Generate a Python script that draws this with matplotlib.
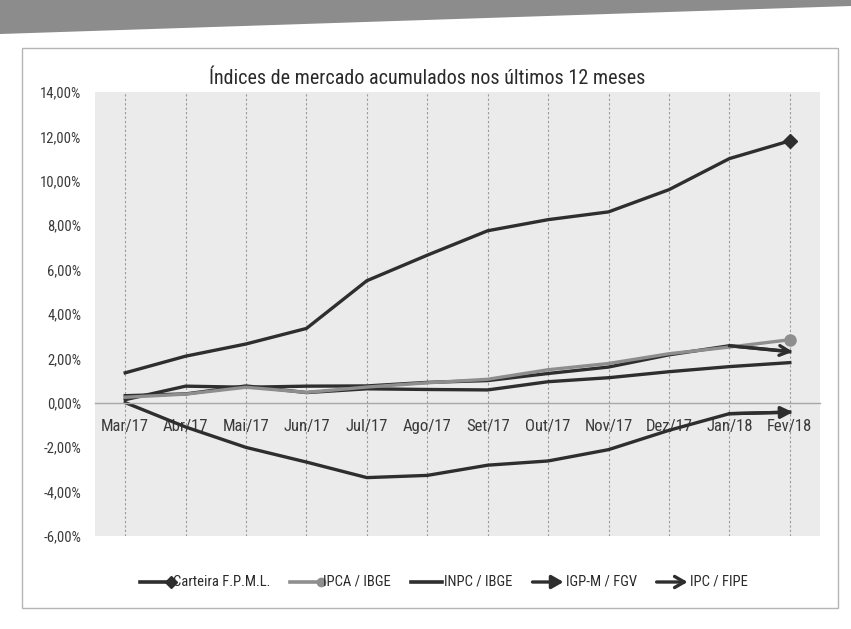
import matplotlib
matplotlib.use("Agg")
import matplotlib.pyplot as plt
from matplotlib import font_manager
from matplotlib.ticker import FuncFormatter, MultipleLocator
from matplotlib.lines import Line2D
from matplotlib.patches import Polygon, Rectangle, FancyArrowPatch

# ---- dados (acumulado desde Mar/17, em %) ----
meses = ["Mar/17", "Abr/17", "Mai/17", "Jun/17", "Jul/17", "Ago/17",
         "Set/17", "Out/17", "Nov/17", "Dez/17", "Jan/18", "Fev/18"]
carteira = [1.35, 2.10, 2.65, 3.35, 5.50, 6.65, 7.75, 8.25, 8.60, 9.60, 11.00, 11.80]
ipca = [0.25, 0.39, 0.70, 0.47, 0.71, 0.90, 1.06, 1.49, 1.77, 2.21, 2.51, 2.84]
inpc = [0.32, 0.40, 0.76, 0.46, 0.63, 0.60, 0.58, 0.95, 1.13, 1.40, 1.63, 1.81]
igpm = [0.01, -1.09, -2.01, -2.67, -3.37, -3.27, -2.81, -2.62, -2.11, -1.24, -0.49, -0.42]
ipc_fipe = [0.14, 0.75, 0.70, 0.75, 0.76, 0.92, 1.00, 1.32, 1.61, 2.16, 2.57, 2.30]

titulo = "Índices de mercado acumulados nos últimos 12 meses"
legenda = ["Carteira F.P.M.L.", "IPCA / IBGE", "INPC / IBGE", "IGP-M / FGV", "IPC / FIPE"]

# fonte estreita (parecida com Calibri), se houver
instaladas = {f.name for f in font_manager.fontManager.ttflist}
fonte = "DejaVu Sans"
for cand in ("Liberation Sans Narrow", "Roboto Condensed", "Open Sans Condensed",
             "Noto Sans Condensed", "Lato", "Roboto"):
    if cand in instaladas:
        fonte = cand
        break
plt.rcParams["font.family"] = [fonte, "DejaVu Sans"]

ESCURO = "#2e2e2e"
CINZA = "#8e8e8e"
W, H = 851, 629

fig = plt.figure(figsize=(W / 100, H / 100), dpi=100)
fig.patch.set_facecolor("white")

# faixa cinza do topo (digitalização) e moldura do gráfico
fig.patches.append(Polygon([(0, 1), (1, 1), (1, 1 - 6 / H), (0, 1 - 34 / H)], closed=True,
                           transform=fig.transFigure, facecolor="#8c8c8c", edgecolor="none"))
fig.patches.append(Rectangle((22 / W, 1 - 608 / H), (838 - 22) / W, (608 - 48) / H,
                             transform=fig.transFigure, fill=False, edgecolor="#b5b5b5", lw=1))

ax = fig.add_axes([95 / W, 1 - 536 / H, 725 / W, 444 / H])
ax.set_facecolor("#ebebeb")
x = list(range(len(meses)))

ax.plot(x, igpm, color=ESCURO, lw=2.4)
ax.plot(x, inpc, color=ESCURO, lw=2.4)
ax.plot(x, ipc_fipe, color=ESCURO, lw=2.4)
ax.plot(x, ipca, color=CINZA, lw=2.4)
ax.plot(x, carteira, color=ESCURO, lw=2.4)

# marcadores de final de linha
ax.plot(x[-1], carteira[-1], marker="D", ms=7, color=ESCURO)
ax.plot(x[-1], ipca[-1], marker="o", ms=8, color=CINZA)
ax.annotate("", xy=(x[-1] + 0.05, igpm[-1]), xytext=(x[-2], igpm[-2]),
            arrowprops=dict(arrowstyle="-|>,head_length=0.7,head_width=0.35",
                            color=ESCURO, lw=2.4, shrinkA=0, shrinkB=0))
ax.annotate("", xy=(x[-1] + 0.05, ipc_fipe[-1]), xytext=(x[-2], ipc_fipe[-2]),
            arrowprops=dict(arrowstyle="->,head_length=0.7,head_width=0.35",
                            color=ESCURO, lw=2.4, shrinkA=0, shrinkB=0))

ax.set_xlim(-0.5, 11.5)
ax.set_ylim(-6, 14)
ax.yaxis.set_major_locator(MultipleLocator(2))
ax.yaxis.set_major_formatter(FuncFormatter(lambda v, p: f"{v:.2f}%".replace(".", ",")))
ax.set_xticks(x)
ax.set_xticklabels(meses)

for s in ("top", "right", "left"):
    ax.spines[s].set_visible(False)
ax.spines["bottom"].set_position(("data", 0))
ax.spines["bottom"].set_color("#a8a8a8")
ax.spines["bottom"].set_linewidth(1.0)

ax.tick_params(axis="y", length=0, pad=10, labelsize=10.5, labelcolor="#3a3a3a")
ax.tick_params(axis="x", length=0, pad=12, labelsize=12, labelcolor="#3a3a3a")
ax.xaxis.grid(True, linestyle=(0, (2, 2)), color="#9a9a9a", lw=0.8)
ax.yaxis.grid(False)
ax.set_axisbelow(True)

fig.text(427 / W, 1 - 78 / H, titulo, ha="center", va="center", fontsize=14.5, color="#2a2a2a")

# legenda manual (marcador na ponta da linha, como no Excel)
ly = 1 - 582 / H
estilos = [(ESCURO, "D"), (CINZA, "o"), (ESCURO, None), (ESCURO, "-|>"), (ESCURO, "->")]
renderer = fig.canvas.get_renderer()
xpos = 140
for nome, (cor, mk) in zip(legenda, estilos):
    x0f, x1f = xpos / W, (xpos + 31) / W
    if mk in ("-|>", "->"):
        fig.patches.append(FancyArrowPatch(
            (x0f, ly), (x1f, ly), transform=fig.transFigure,
            arrowstyle=mk + ",head_length=0.7,head_width=0.4", color=cor, lw=2.4,
            mutation_scale=10, shrinkA=0, shrinkB=0))
    else:
        fig.add_artist(Line2D([x0f, x1f], [ly, ly], color=cor, lw=2.6, transform=fig.transFigure))
        if mk:
            fig.add_artist(Line2D([x1f], [ly], marker=mk, ms=6, color=cor, transform=fig.transFigure))
    t = fig.text(x1f + 2 / W, ly, nome, ha="left", va="center", fontsize=10.5, color="#2a2a2a")
    larg = t.get_window_extent(renderer).width
    xpos = xpos + 31 + 2 + larg + 20

fig.savefig("out.png", dpi=100, facecolor=fig.get_facecolor())
